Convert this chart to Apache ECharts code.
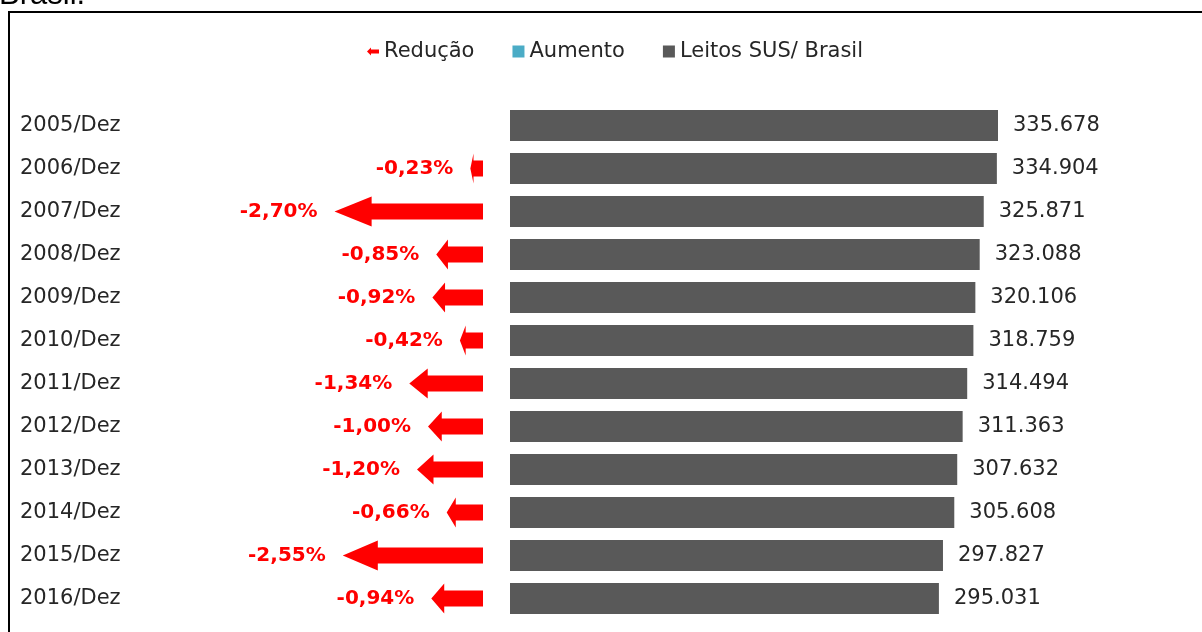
<!DOCTYPE html>
<html>
<head>
    <meta charset="UTF-8">
    <title></title>
    <style type="text/css">
        body { margin: 0; background: #fff; }
        #mychart { width: 1202px; height: 632px; }
    </style>
</head>
<body>
<div id='mychart'></div>
<script src='https://cdn.jsdelivr.net/npm/echarts@6/dist/echarts.min.js'></script>
<script>
    var anos = ['2005/Dez', '2006/Dez', '2007/Dez', '2008/Dez', '2009/Dez', '2010/Dez',
        '2011/Dez', '2012/Dez', '2013/Dez', '2014/Dez', '2015/Dez', '2016/Dez'];
    var leitos = [335678, 334904, 325871, 323088, 320106, 318759,
        314494, 311363, 307632, 305608, 297827, 295031];
    // variação de 2006 em diante
    var reducao = [-0.23, -2.70, -0.85, -0.92, -0.42, -1.34, -1.00, -1.20, -0.66, -2.55, -0.94];
    var aumento = [];

    var fonte = '"DejaVu Sans", sans-serif';

    function milhar(v) {
        return String(v).replace(/\B(?=(\d{3})+(?!\d))/g, '.');
    }

    // seta vermelha para a esquerda + rótulo em %
    function desenhaSeta(params, api) {
        var fim = api.coord([0, api.value(1)]);
        var ponta = api.coord([api.value(0), api.value(1)]);
        var len = fim[0] - ponta[0];
        var cab = len * 0.25;
        var bh = 8, hh = 15;
        var y = fim[1];
        var x0 = ponta[0], xc = ponta[0] + cab, x1 = fim[0];
        return {
            type: 'group',
            children: [{
                type: 'polygon',
                shape: {
                    points: [[x0, y], [xc, y - hh], [xc, y - bh], [x1, y - bh],
                        [x1, y + bh], [xc, y + bh], [xc, y + hh]]
                },
                style: {fill: '#ff0000'}
            }, {
                type: 'text',
                style: {
                    text: api.value(0).toFixed(2).replace('.', ',') + '%',
                    x: x0 - 17,
                    y: y,
                    align: 'right',
                    verticalAlign: 'middle',
                    fill: '#ff0000',
                    font: 'bold 20px ' + fonte
                }
            }]
        };
    }

    var myChart = echarts.init(document.getElementById('mychart'));

    var option = {
        animation: false,
        textStyle: {fontFamily: fonte},
        legend: {
            top: 36,
            left: 362,
            itemWidth: 12,
            itemHeight: 12,
            itemGap: 38,
            textStyle: {fontSize: 21, color: '#262626', fontFamily: fonte},
            data: [
                {name: 'Redução', icon: 'path://M0,5 L4,1 L4,3 L12,3 L12,7 L4,7 L4,9 Z'},
                {name: 'Aumento', icon: 'rect'},
                {name: 'Leitos SUS/ Brasil', icon: 'rect'}
            ]
        },
        graphic: [{
            type: 'rect',
            shape: {x: 9, y: 12, width: 1400, height: 800},
            style: {fill: 'none', stroke: '#000', lineWidth: 2}
        }, {
            type: 'text',
            style: {
                text: 'Brasil.',
                x: -1,
                y: 11,
                verticalAlign: 'bottom',
                font: '31px "Liberation Sans", Arial, sans-serif',
                fill: '#000'
            }
        }],
        grid: [
            {left: 318, width: 165, top: 104, height: 516},
            {left: 510, right: 204, top: 104, height: 516}
        ],
        xAxis: [
            {gridIndex: 0, type: 'value', min: -3, max: 0, show: false},
            {gridIndex: 1, type: 'value', min: 0, max: 'dataMax', show: false}
        ],
        yAxis: [
            {gridIndex: 0, type: 'category', data: anos, inverse: true, show: false},
            {
                gridIndex: 1, type: 'category', data: anos, inverse: true,
                axisLine: {show: false},
                axisTick: {show: false},
                axisLabel: {
                    margin: 490,
                    align: 'left',
                    fontSize: 21,
                    color: '#262626',
                    fontFamily: fonte
                }
            }
        ],
        series: [
            {
                name: 'Redução',
                type: 'custom',
                xAxisIndex: 0,
                yAxisIndex: 0,
                itemStyle: {color: '#ff0000'},
                renderItem: desenhaSeta,
                encode: {x: 0, y: 1},
                data: reducao.map(function (v, i) {
                    return [v, i + 1];
                })
            },
            {
                name: 'Aumento',
                type: 'bar',
                xAxisIndex: 1,
                yAxisIndex: 1,
                itemStyle: {color: '#4bacc6'},
                data: aumento
            },
            {
                name: 'Leitos SUS/ Brasil',
                type: 'bar',
                xAxisIndex: 1,
                yAxisIndex: 1,
                barWidth: 31,
                barGap: '-100%',
                itemStyle: {color: '#595959'},
                label: {
                    show: true,
                    position: 'right',
                    distance: 15,
                    fontSize: 21,
                    color: '#262626',
                    fontFamily: fonte,
                    formatter: function (p) {
                        return milhar(p.value);
                    }
                },
                data: leitos
            }
        ]
    };

    myChart.setOption(option);
</script>
</body>
</html>
